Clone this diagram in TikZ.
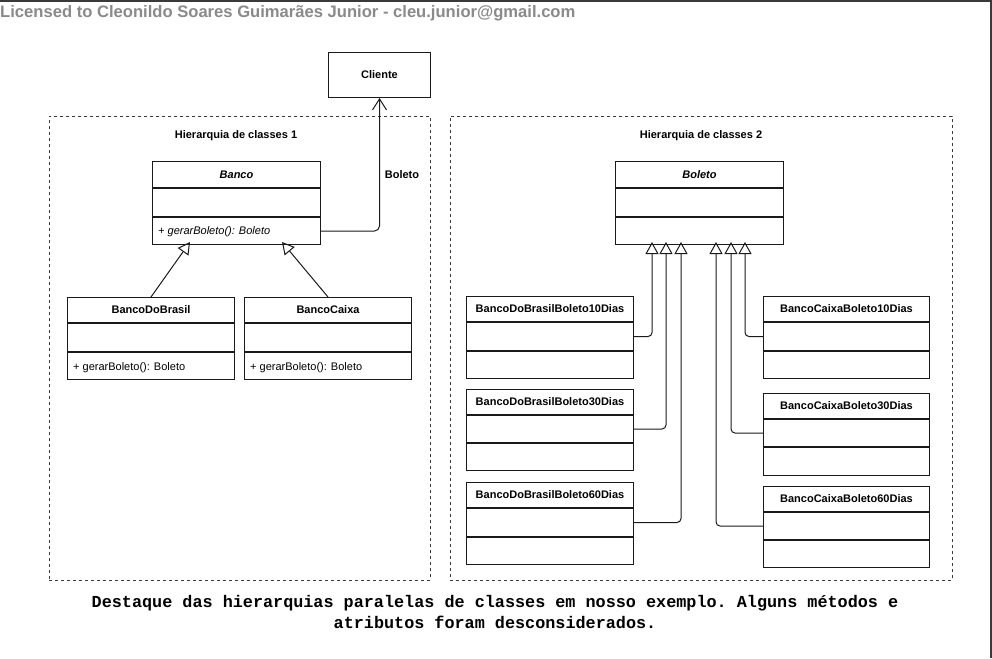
\documentclass[tikz,border=0pt]{standalone}
\usepackage{fontspec}
\setmainfont{Liberation Sans}
\setmonofont{Liberation Mono}
\usetikzlibrary{arrows.meta}
\definecolor{linec}{HTML}{1A1A1A}
\definecolor{dashc}{HTML}{3A3A3A}
\definecolor{hdrc}{HTML}{8A8A8A}
\definecolor{framec}{HTML}{3A3A3A}
\tikzset{
  clsfont/.style={font=\bfseries\fontsize{11}{13}\selectfont},
  clshdr/.style={draw=linec, line width=1pt, inner sep=0pt, anchor=north west, fill=white, clsfont},
  clssec/.style={draw=linec, line width=1pt, inner sep=0pt, anchor=north west, fill=white},
  mtext/.style={anchor=west, inner sep=0pt, font=\fontsize{11}{13}\selectfont},
  container/.style={draw=dashc, line width=0.8pt, dash pattern=on 3pt off 3pt, inner sep=0pt, anchor=north west},
  lbl/.style={inner sep=0pt, clsfont},
  inh/.style={draw=linec, line width=1pt, -{Triangle[open, length=12pt, width=13pt]}},
  assoc/.style={draw=linec, line width=1pt, -{Straight Barb[length=11pt, width=14pt]}, rounded corners=5pt},
}
\newcommand{\umlclass}[8]{%
  \node[clshdr, minimum width=#4pt, minimum height=#5pt] (#1) at (#2,#3) {#8};
  \node[clssec, minimum width=#4pt, minimum height=#6pt] (#1-a) at (#1.south west) {};
  \node[clssec, minimum width=#4pt, minimum height=#7pt] (#1-m) at (#1-a.south west) {};
}
\begin{document}
\begin{tikzpicture}[x=1pt, y=-1pt]
\useasboundingbox (0,0) rectangle (992,658);
\fill[white] (0,0) rectangle (992,658);
% frame
\draw[framec, line width=2pt] (0,1) -- (991,1) -- (991,658);
% header
\node[anchor=base west, inner sep=0pt, text=hdrc, font=\bfseries\fontsize{16.6}{19}\selectfont] (lic) at (0,17.5) {Licensed to Cleonildo Soares Guimarães Junior - cleu.junior@gmail.com};

% containers
\node[container, minimum width=381pt, minimum height=464pt] (h1) at (49,116) {};
\node[container, minimum width=502pt, minimum height=464pt] (h2) at (450,116) {};
\node[lbl] (h1l) at (236,136) {Hierarquia de classes 1};
\node[lbl] (h2l) at (701,136) {Hierarquia de classes 2};

% cliente
\node[clshdr, minimum width=102pt, minimum height=45pt] (cliente) at (328,52) {Cliente};

% hierarchy 1
\umlclass{banco}{152}{161}{168}{26}{28}{27}{\textit{Banco}}
\umlclass{bdb}{67}{297}{167}{25}{28}{27}{BancoDoBrasil}
\umlclass{bcx}{244}{297}{167}{25}{28}{27}{BancoCaixa}
\node[mtext, font=\itshape\fontsize{11}{13}\selectfont] (banco-mt) at ([xshift=6pt,yshift=-1pt]banco-m.west) {+ gerarBoleto(): Boleto};
\node[mtext] (bdb-mt) at ([xshift=6pt,yshift=-1.5pt]bdb-m.west) {+ gerarBoleto(): Boleto};
\node[mtext] (bcx-mt) at ([xshift=6pt,yshift=-1.5pt]bcx-m.west) {+ gerarBoleto(): Boleto};

% hierarchy 2
\umlclass{boleto}{615}{161}{168}{26}{28}{27}{\textit{Boleto}}
\umlclass{bb10}{466}{296}{167}{25}{28}{27}{BancoDoBrasilBoleto10Dias}
\umlclass{bb30}{466}{389}{167}{25}{27}{27}{BancoDoBrasilBoleto30Dias}
\umlclass{bb60}{466}{482}{167}{25}{28}{27}{BancoDoBrasilBoleto60Dias}
\umlclass{bc10}{763}{296}{166}{25}{28}{27}{BancoCaixaBoleto10Dias}
\umlclass{bc30}{763}{393}{166}{25}{27}{28}{BancoCaixaBoleto30Dias}
\umlclass{bc60}{763}{486}{166}{25}{27}{27}{BancoCaixaBoleto60Dias}

% target points
\coordinate (t1) at (190,242);
\coordinate (t2) at (282,242);
\coordinate (b1) at (652,242);
\coordinate (b2) at (666,242);
\coordinate (b3) at (681,242);
\coordinate (b4) at (716,242);
\coordinate (b5) at (731,242);
\coordinate (b6) at (745,242);

% connectors
\draw[assoc] (banco-m.east) -| (cliente.south);
\node[lbl] (assocl) at (402,175) {Boleto};
\draw[inh] (bdb.north) -- (t1);
\draw[inh] (bcx.north) -- (t2);
\draw[inh, rounded corners=4pt] (bb10-a.east) -| (b1);
\draw[inh, rounded corners=4pt] (bb30-a.east) -| (b2);
\draw[inh, rounded corners=4pt] (bb60-a.east) -| (b3);
\draw[inh, rounded corners=4pt] (bc60-a.west) -| (b4);
\draw[inh, rounded corners=4pt] (bc30-a.west) -| (b5);
\draw[inh, rounded corners=4pt] (bc10-a.west) -| (b6);

% caption
\node[align=center, inner sep=0pt, font=\ttfamily\bfseries\fontsize{16.8}{21}\selectfont] (cap) at (495,611.5) {Destaque das hierarquias paralelas de classes em nosso exemplo. Alguns métodos e\\atributos foram desconsiderados.};
\end{tikzpicture}
\end{document}
